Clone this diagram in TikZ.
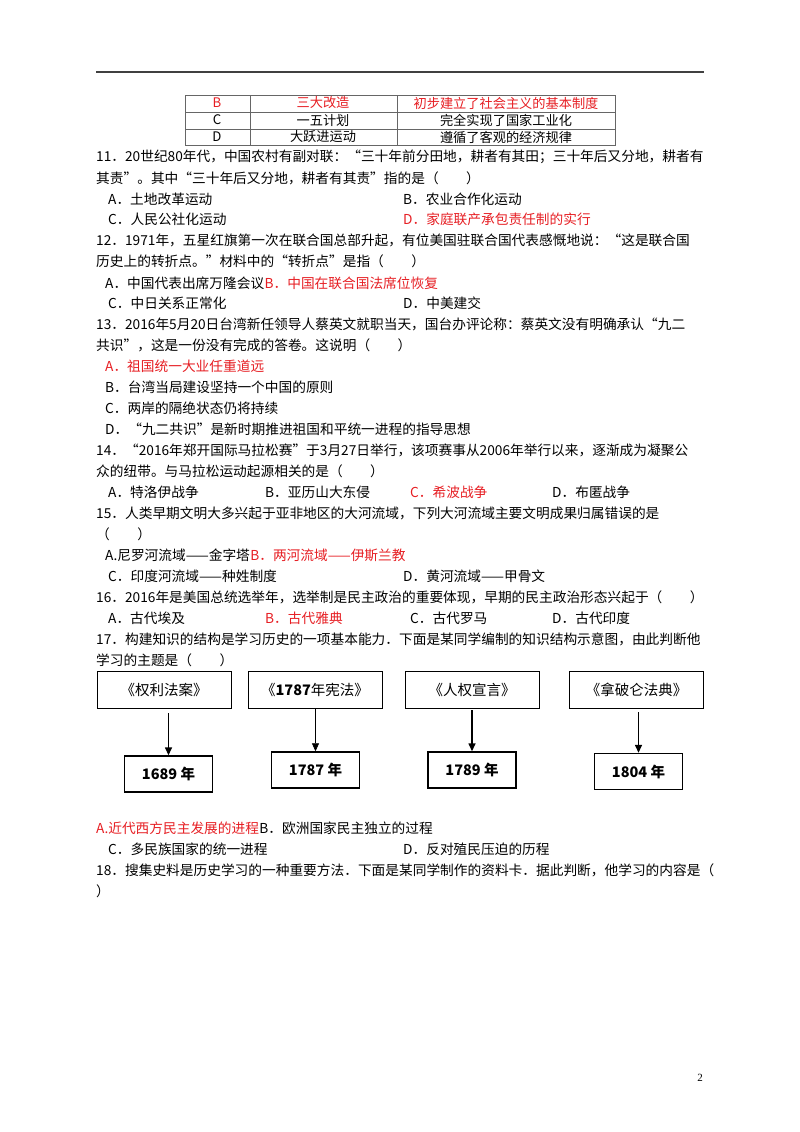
\documentclass[tikz,border=0pt]{standalone}
\usepackage{fontspec}
\setmainfont{Liberation Serif}
\newfontfamily\cjk{Noto Sans CJK SC}
\usetikzlibrary{positioning,arrows.meta}
\definecolor{ansred}{RGB}{230,30,35}
\tikzset{
  ln/.style={anchor=west,inner sep=0pt,font=\cjk\fontsize{13.7}{16}\selectfont},
  ans/.style={ln,text=ansred},
  cell/.style={inner sep=0pt,font=\cjk\fontsize{13.2}{15}\selectfont},
  top box/.style={draw,line width=0.8pt,minimum width=134pt,minimum height=37pt,font=\cjk\fontsize{14.5}{17}\selectfont},
  year box/.style={draw,line width=1.4pt,minimum width=88pt,minimum height=36pt,font=\cjk\bfseries\fontsize{14.5}{17}\selectfont},
  link/.style={-{Triangle[length=8pt,width=7pt]},line width=1.4pt},
}
\begin{document}
\begin{tikzpicture}[x=1pt,y=-1pt]
\useasboundingbox (0,0) rectangle (800,1132);
\draw[line width=1.2pt,black!75] (96,72) -- (704,72);
% table
\draw[black!60,line width=0.7pt] (185,95) rectangle (615,145);
\foreach \yy in {112,129} \draw[black!60,line width=0.7pt] (185,\yy) -- (615,\yy);
\foreach \xx in {250,397} \draw[black!60,line width=0.7pt] (\xx,95) -- (\xx,145);
\node[cell,text=ansred] (tb1) at (217,103) {B};
\node[cell,text=ansred] (tb2) at (323,103) {三大改造};
\node[cell,text=ansred] (tb3) at (506,103) {初步建立了社会主义的基本制度};
\node[cell] (tc1) at (217,120) {C};
\node[cell] (tc2) at (323,120) {一五计划};
\node[cell] (tc3) at (506,120) {完全实现了国家工业化};
\node[cell] (td1) at (217,137) {D};
\node[cell] (td2) at (323,137) {大跃进运动};
\node[cell] (td3) at (506,137) {遵循了客观的经济规律};
% 11
\node[ln] (q11) at (96,157) {11．20世纪80年代，中国农村有副对联：“三十年前分田地，耕者有其田；三十年后又分地，耕者有};
\node[ln] (q11b) at (96,178) {其责”。其中“三十年后又分地，耕者有其责”指的是（　　）};
\node[ln] (q11A) at (108,199) {A．土地改革运动};
\node[ln] (q11B) at (403,199) {B．农业合作化运动};
\node[ln] (q11C) at (108,219) {C．人民公社化运动};
\node[ans] (q11D) at (403,219) {D．家庭联产承包责任制的实行};
% 12
\node[ln] (q12) at (96,240) {12．1971年，五星红旗第一次在联合国总部升起，有位美国驻联合国代表感慨地说：“这是联合国};
\node[ln] (q12b) at (96,261) {历史上的转折点。”材料中的“转折点”是指（　　）};
\node[ln] (q12A) at (105,283) {A．中国代表出席万隆会议};
\node[ans] (q12B) at (q12A.east) {B．中国在联合国法席位恢复};
\node[ln] (q12C) at (108,303) {C．中日关系正常化};
\node[ln] (q12D) at (403,303) {D．中美建交};
% 13
\node[ln] (q13) at (96,324) {13．2016年5月20日台湾新任领导人蔡英文就职当天，国台办评论称：蔡英文没有明确承认“九二};
\node[ln] (q13b) at (96,345) {共识”，这是一份没有完成的答卷。这说明（　　）};
\node[ans] (q13A) at (105,366) {A．祖国统一大业任重道远};
\node[ln] (q13B) at (105,387) {B．台湾当局建设坚持一个中国的原则};
\node[ln] (q13C) at (105,408) {C．两岸的隔绝状态仍将持续};
\node[ln] (q13D) at (105,429) {D．“九二共识”是新时期推进祖国和平统一进程的指导思想};
% 14
\node[ln] (q14) at (96,450) {14．“2016年郑开国际马拉松赛”于3月27日举行，该项赛事从2006年举行以来，逐渐成为凝聚公};
\node[ln] (q14b) at (96,471) {众的纽带。与马拉松运动起源相关的是（　　）};
\node[ln] (q14A) at (108,492) {A．特洛伊战争};
\node[ln] (q14B) at (265,492) {B．亚历山大东侵};
\node[ans] (q14C) at (410,492) {C．希波战争};
\node[ln] (q14D) at (552,492) {D．布匿战争};
% 15
\node[ln] (q15) at (96,513) {15．人类早期文明大多兴起于亚非地区的大河流域，下列大河流域主要文明成果归属错误的是};
\node[ln] (q15b) at (96,534) {（　　）};
\node[ln] (q15A) at (105,555) {A.尼罗河流域——金字塔};
\node[ans] (q15B) at (q15A.east) {B．两河流域——伊斯兰教};
\node[ln] (q15C) at (108,576) {C．印度河流域——种姓制度};
\node[ln] (q15D) at (403,576) {D．黄河流域——甲骨文};
% 16
\node[ln] (q16) at (96,597) {16．2016年是美国总统选举年，选举制是民主政治的重要体现，早期的民主政治形态兴起于（　　）};
\node[ln] (q16A) at (108,618) {A．古代埃及};
\node[ans] (q16B) at (265,618) {B．古代雅典};
\node[ln] (q16C) at (410,618) {C．古代罗马};
\node[ln] (q16D) at (552,618) {D．古代印度};
% 17
\node[ln] (q17) at (96,639) {17．构建知识的结构是学习历史的一项基本能力．下面是某同学编制的知识结构示意图，由此判断他};
\node[ln] (q17b) at (96,660) {学习的主题是（　　）};
\node[top box] (law1) at (164,689.5) {《权利法案》};
\node[top box] (law2) at (315,689.5) {《\textbf{1787}年宪法》};
\node[top box] (law3) at (472,689.5) {《人权宣言》};
\node[top box] (law4) at (636.5,689.5) {《拿破仑法典》};
\node[year box] (yr1) at (168.5,774) {1689 年};
\node[year box] (yr2) at (315.5,770) {1787 年};
\node[year box] (yr3) at (472,770) {1789 年};
\node[year box] (yr4) at (638.5,771.5) {1804 年};
\draw[link] ([yshift=-5pt]law1.south -| yr1) -- (yr1.north);
\draw[link,line width=0.7pt] (law2.south -| yr2) -- (yr2.north);
\draw[link] ([yshift=-2pt]law3.south -| yr3) -- (yr3.north);
\draw[link] ([yshift=-4pt]law4.south -| yr4) -- (yr4.north);
\node[ans] (q17A) at (96,828) {A.近代西方民主发展的进程};
\node[ln] (q17B) at (q17A.east) {B．欧洲国家民主独立的过程};
\node[ln] (q17C) at (108,849) {C．多民族国家的统一进程};
\node[ln] (q17D) at (403,849) {D．反对殖民压迫的历程};
% 18
\node[ln] (q18) at (96,870) {18．搜集史料是历史学习的一种重要方法．下面是某同学制作的资料卡．据此判断，他学习的内容是（};
\node[ln] (q18b) at (96,891) {）};
\node[inner sep=0pt,font=\fontsize{11}{12}\selectfont] (pg) at (700,1078) {2};
\end{tikzpicture}
\end{document}
